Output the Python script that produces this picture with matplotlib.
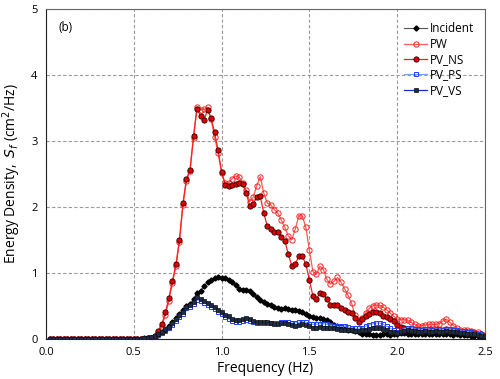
"""Energy density spectra: incident vs. transmitted waves, panel (b)."""
import numpy as np
import matplotlib

matplotlib.use("Agg")
import matplotlib.pyplot as plt

plt.rcParams["font.family"] = ["Open Sans", "DejaVu Sans"]

# frequency bins, 0.02 Hz spacing up to 2.5 Hz
freq = np.arange(1, 126) * 0.02

lead = [0.0] * 27  # nothing below ~0.55 Hz

incident = lead + [
    0.005, 0.01, 0.02, 0.04, 0.06, 0.10, 0.14, 0.19, 0.25, 0.31,
    0.38, 0.44, 0.50, 0.53, 0.60, 0.70, 0.73, 0.80, 0.86, 0.89,
    0.915, 0.93, 0.925, 0.915, 0.89, 0.855, 0.81, 0.755, 0.74, 0.745,
    0.73, 0.675, 0.63, 0.59, 0.56, 0.53, 0.51, 0.48, 0.46, 0.45,
    0.46, 0.45, 0.44, 0.43, 0.42, 0.40, 0.38, 0.35, 0.33, 0.32,
    0.31, 0.30, 0.28, 0.25, 0.21, 0.19, 0.18, 0.16, 0.14, 0.13,
    0.12, 0.10, 0.08, 0.07, 0.07, 0.06, 0.06, 0.06, 0.07, 0.07,
    0.06, 0.07, 0.08, 0.09, 0.09, 0.08, 0.08, 0.08, 0.07, 0.08,
    0.08, 0.07, 0.07, 0.08, 0.08, 0.07, 0.07, 0.07, 0.06, 0.07,
    0.06, 0.06, 0.06, 0.05, 0.05, 0.05, 0.04, 0.04,
]

pw = lead + [
    0.0, 0.005, 0.02, 0.05, 0.10, 0.20, 0.36, 0.58, 0.84, 1.10,
    1.47, 2.03, 2.40, 2.54, 3.05, 3.52, 3.47, 3.48, 3.51, 3.33,
    3.06, 2.82, 2.52, 2.36, 2.36, 2.43, 2.47, 2.45, 2.37, 2.25,
    2.08, 2.15, 2.32, 2.46, 2.21, 2.06, 2.03, 1.96, 1.91, 1.80,
    1.69, 1.56, 1.50, 1.67, 1.87, 1.86, 1.69, 1.34, 1.02, 0.98,
    1.10, 1.05, 0.90, 0.83, 0.87, 0.93, 0.86, 0.76, 0.66, 0.54,
    0.36, 0.29, 0.32, 0.39, 0.46, 0.50, 0.51, 0.51, 0.48, 0.44,
    0.39, 0.34, 0.30, 0.29, 0.29, 0.28, 0.25, 0.22, 0.19, 0.20,
    0.21, 0.22, 0.22, 0.22, 0.23, 0.27, 0.30, 0.25, 0.20, 0.17,
    0.14, 0.13, 0.13, 0.12, 0.11, 0.10, 0.08, 0.06,
]

pv_ns = lead + [
    0.0, 0.005, 0.02, 0.05, 0.12, 0.23, 0.40, 0.62, 0.88, 1.13,
    1.50, 2.06, 2.43, 2.56, 3.07, 3.49, 3.38, 3.32, 3.47, 3.35,
    3.13, 2.86, 2.53, 2.34, 2.32, 2.33, 2.35, 2.36, 2.35, 2.21,
    2.02, 2.04, 2.15, 2.16, 1.91, 1.71, 1.67, 1.62, 1.62, 1.55,
    1.49, 1.28, 1.11, 1.14, 1.25, 1.25, 1.13, 0.89, 0.65, 0.60,
    0.70, 0.68, 0.60, 0.52, 0.52, 0.51, 0.46, 0.43, 0.41, 0.39,
    0.31, 0.26, 0.30, 0.35, 0.38, 0.40, 0.40, 0.39, 0.35, 0.33,
    0.30, 0.27, 0.21, 0.18, 0.16, 0.15, 0.14, 0.14, 0.13, 0.13,
    0.14, 0.14, 0.14, 0.14, 0.13, 0.14, 0.15, 0.14, 0.13, 0.12,
    0.11, 0.11, 0.10, 0.10, 0.09, 0.08, 0.07, 0.05,
]

pv_ps = lead + [
    0.003, 0.01, 0.02, 0.04, 0.06, 0.09, 0.12, 0.16, 0.21, 0.27,
    0.33, 0.38, 0.46, 0.48, 0.53, 0.59, 0.57, 0.55, 0.52, 0.48,
    0.45, 0.41, 0.37, 0.33, 0.30, 0.27, 0.25, 0.25, 0.27, 0.29,
    0.27, 0.25, 0.24, 0.24, 0.24, 0.24, 0.24, 0.24, 0.24, 0.25,
    0.26, 0.25, 0.24, 0.24, 0.25, 0.26, 0.25, 0.23, 0.22, 0.22,
    0.23, 0.23, 0.22, 0.21, 0.20, 0.19, 0.19, 0.19, 0.18, 0.17,
    0.16, 0.16, 0.17, 0.19, 0.21, 0.23, 0.24, 0.24, 0.22, 0.19,
    0.16, 0.13, 0.11, 0.12, 0.15, 0.17, 0.16, 0.15, 0.15, 0.14,
    0.15, 0.15, 0.14, 0.15, 0.15, 0.14, 0.15, 0.15, 0.14, 0.13,
    0.12, 0.12, 0.11, 0.10, 0.09, 0.08, 0.07, 0.06,
]

pv_vs = lead + [
    0.005, 0.015, 0.03, 0.05, 0.075, 0.11, 0.145, 0.185, 0.235, 0.30,
    0.36, 0.41, 0.49, 0.51, 0.56, 0.63, 0.60, 0.58, 0.55, 0.51,
    0.48, 0.44, 0.40, 0.36, 0.34, 0.30, 0.28, 0.28, 0.30, 0.32,
    0.30, 0.27, 0.26, 0.26, 0.25, 0.25, 0.24, 0.23, 0.23, 0.24,
    0.24, 0.23, 0.21, 0.20, 0.21, 0.22, 0.21, 0.19, 0.17, 0.17,
    0.18, 0.17, 0.16, 0.17, 0.16, 0.15, 0.14, 0.14, 0.13, 0.13,
    0.12, 0.12, 0.13, 0.14, 0.15, 0.16, 0.17, 0.17, 0.15, 0.13,
    0.11, 0.10, 0.09, 0.10, 0.12, 0.13, 0.12, 0.12, 0.11, 0.11,
    0.12, 0.11, 0.11, 0.12, 0.11, 0.11, 0.12, 0.11, 0.10, 0.10,
    0.09, 0.09, 0.08, 0.08, 0.07, 0.06, 0.05, 0.04,
]


def main() -> None:
    fig = plt.figure(figsize=(5.0, 3.79), dpi=100)
    ax = fig.add_axes([0.092, 0.106, 0.878, 0.870])

    ax.plot(freq, incident, color="#555555", lw=0.8, marker="D", ms=2.6,
            mfc="black", mec="black", label="Incident", zorder=3)
    ax.plot(freq, pw, color="#ff5a5a", lw=0.9, marker="o", ms=3.8,
            mfc="none", mec="#ff2020", mew=0.7, label="PW", zorder=4)
    ax.plot(freq, pv_ns, color="#ff2020", lw=0.9, marker="o", ms=3.8,
            mfc="#e00000", mec="#300000", mew=0.6, label="PV_NS", zorder=5)
    ax.plot(freq, pv_ps, color="#7aa6f0", lw=0.9, marker="s", ms=3.3,
            mfc="none", mec="#2040ff", mew=0.7, label="PV_PS", zorder=6)
    ax.plot(freq, pv_vs, color="#1030d0", lw=0.9, marker="s", ms=3.3,
            mfc="#1e2b45", mec="#111111", mew=0.5, label="PV_VS", zorder=7)

    ax.set_xlim(0, 2.5)
    ax.set_ylim(0, 5)
    ax.set_xticks(np.arange(0, 2.51, 0.5))
    ax.set_xticklabels([f"{v:.1f}" for v in np.arange(0, 2.51, 0.5)])
    ax.set_yticks(range(6))
    ax.tick_params(length=0, labelsize=8, pad=6)
    ax.grid(True, color="#999999", ls=(0, (3, 2)), lw=0.8)
    ax.set_axisbelow(True)
    for side in ("top", "right"):
        ax.spines[side].set_color("#666666")
    for side in ("left", "bottom"):
        ax.spines[side].set_color("#222222")

    ax.set_xlabel("Frequency (Hz)", fontsize=10, labelpad=2)
    ax.set_ylabel("Energy Density,  $S_f$ (cm$^2$/Hz)", fontsize=10, labelpad=6)
    ax.text(0.07, 4.72, "(b)", fontsize=8.5, va="center")

    ax.legend(loc="upper right", frameon=False, fontsize=8.5,
              handlelength=2.0, handletextpad=0.25, labelspacing=0.2,
              borderaxespad=0.3, bbox_to_anchor=(0.995, 0.985))

    fig.savefig("out.png", dpi=100)


if __name__ == "__main__":
    main()
